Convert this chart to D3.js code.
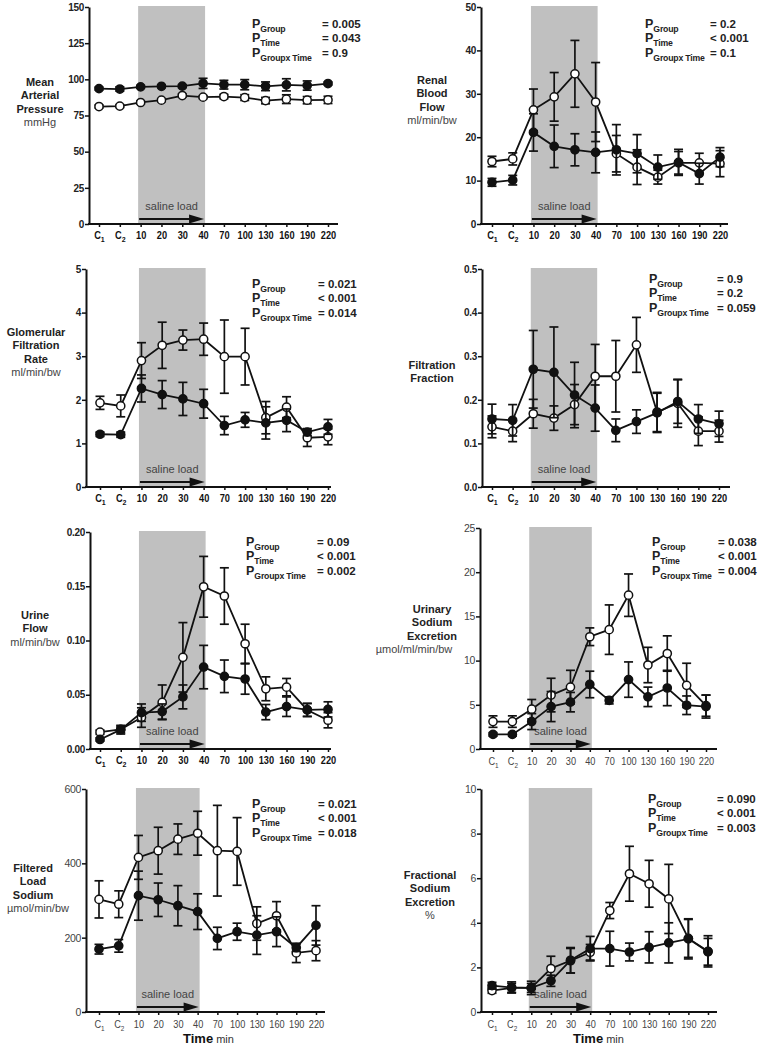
<!DOCTYPE html>
<html>
<head>
<meta charset="utf-8">
<script src="https://cdn.jsdelivr.net/npm/d3@7/dist/d3.min.js"></script>
<style>
  body { margin: 0; background: #fff; }
  svg { display: block; }
  text { font-family: "Liberation Sans", Arial, sans-serif; }
</style>
</head>
<body>
<svg id="chart" width="764" height="1047"></svg>
<script>
// time points (C1, C2 = control periods, then minutes)
const categories = ["C1", "C2", "10", "20", "30", "40", "70", "100", "130", "160", "190", "220"];
const pNames = ["Group", "Time", "Groupx Time"];

// Mean arterial pressure
const mapTicks = [0, 25, 50, 75, 100, 125, 150];
const mapFilled = [93.6, 93.3, 94.8, 95.2, 95.3, 97.2, 96.3, 96.3, 95.2, 96.2, 95.7, 97.1];
const mapFilledErr = [1.0, 1.5, 1.0, 1.0, 1.0, 3.5, 3.0, 3.5, 3.0, 4.2, 3.2, 1.0];
const mapOpen = [81.2, 81.5, 84.0, 85.6, 88.8, 87.7, 88.1, 87.4, 85.3, 86.3, 85.6, 85.8];
const mapOpenErr = [1.0, 1.0, 1.0, 1.0, 1.0, 1.0, 1.5, 2.0, 2.2, 3.0, 2.5, 2.5];
const mapP = ["= 0.005", "= 0.043", "= 0.9"];

// Renal blood flow
const rbfTicks = [0, 10, 20, 30, 40, 50];
const rbfOpen = [14.4, 15.0, 26.3, 29.3, 34.6, 28.1, 16.2, 13.1, 10.8, 14.1, 14.1, 13.9];
const rbfOpenErr = [1.2, 1.4, 4.8, 5.6, 7.7, 9.1, 4.2, 4.0, 1.6, 2.6, 2.2, 3.0];
const rbfFilled = [9.6, 10.1, 21.1, 17.9, 17.1, 16.5, 17.1, 16.2, 13.1, 14.2, 11.6, 15.4];
const rbfFilledErr = [0.9, 1.1, 4.3, 4.9, 3.7, 4.7, 5.8, 4.4, 2.8, 3.0, 2.4, 2.2];
const rbfP = ["= 0.2", "< 0.001", "= 0.1"];

// Glomerular filtration rate
const gfrTicks = [0, 1, 2, 3, 4, 5];
const gfrOpen = [1.93, 1.86, 2.90, 3.25, 3.37, 3.39, 2.99, 2.99, 1.59, 1.83, 1.13, 1.15];
const gfrOpenErr = [0.15, 0.25, 0.41, 0.53, 0.23, 0.37, 0.84, 0.65, 0.37, 0.24, 0.2, 0.18];
const gfrFilled = [1.21, 1.20, 2.26, 2.12, 2.02, 1.91, 1.41, 1.54, 1.47, 1.53, 1.26, 1.38];
const gfrFilledErr = [0.05, 0.06, 0.31, 0.32, 0.38, 0.33, 0.21, 0.17, 0.37, 0.26, 0.08, 0.17];
const gfrP = ["= 0.021", "< 0.001", "= 0.014"];

// Filtration fraction
const ffTicks = [0, 0.1, 0.2, 0.3, 0.4, 0.5];
const ffOpen = [0.138, 0.128, 0.168, 0.158, 0.189, 0.254, 0.254, 0.326, 0.172, 0.192, 0.128, 0.128];
const ffOpenErr = [0.025, 0.024, 0.033, 0.028, 0.046, 0.073, 0.082, 0.063, 0.045, 0.055, 0.033, 0.025];
const ffFilled = [0.156, 0.153, 0.270, 0.263, 0.211, 0.181, 0.130, 0.150, 0.170, 0.196, 0.156, 0.145];
const ffFilledErr = [0.034, 0.036, 0.089, 0.104, 0.075, 0.053, 0.026, 0.027, 0.045, 0.05, 0.033, 0.029];
const ffP = ["= 0.9", "= 0.2", "= 0.059"];

// Urine flow
const ufTicks = [0, 0.05, 0.10, 0.15, 0.20];
const ufOpen = [0.0155, 0.0180, 0.0290, 0.0430, 0.0845, 0.1495, 0.141, 0.097, 0.0555, 0.057, 0.036, 0.0265];
const ufOpenErr = [0.002, 0.003, 0.009, 0.016, 0.032, 0.028, 0.026, 0.018, 0.011, 0.008, 0.006, 0.007];
const ufFilled = [0.0088, 0.0178, 0.0335, 0.0345, 0.0480, 0.0755, 0.0670, 0.0645, 0.0340, 0.0390, 0.0360, 0.0365];
const ufFilledErr = [0.0015, 0.004, 0.008, 0.007, 0.011, 0.020, 0.015, 0.014, 0.007, 0.009, 0.006, 0.007];
const ufP = ["= 0.09", "< 0.001", "= 0.002"];

// Urinary sodium excretion
const unavTicks = [0, 5, 10, 15, 20, 25];
const unavOpen = [3.1, 3.1, 4.5, 6.1, 7.0, 12.7, 13.5, 17.4, 9.5, 10.8, 7.2, 4.9];
const unavOpenErr = [0.65, 0.65, 1.1, 1.9, 1.9, 1.0, 2.8, 2.4, 2.0, 2.0, 2.5, 1.2];
const unavFilled = [1.65, 1.65, 3.1, 4.8, 5.3, 7.3, 5.5, 7.85, 5.9, 6.9, 4.95, 4.8];
const unavFilledErr = [0.2, 0.2, 0.9, 1.7, 1.1, 1.5, 0.4, 2.0, 1.1, 2.0, 1.05, 1.3];
const unavP = ["= 0.038", "< 0.001", "= 0.004"];

// Filtered load sodium
const flnaTicks = [0, 200, 400, 600];
const flnaOpen = [303, 290, 416, 434, 465, 481, 434, 432, 238, 259, 159, 165];
const flnaOpenErr = [50, 36, 59, 63, 41, 59, 122, 91, 45, 38, 26, 27];
const flnaFilled = [169, 178, 313, 302, 286, 270, 198, 216, 207, 216, 173, 233];
const flnaFilledErr = [13, 17, 66, 45, 54, 48, 30, 23, 52, 40, 10, 53];
const flnaP = ["= 0.021", "< 0.001", "= 0.018"];

// Fractional sodium excretion
const fenaTicks = [0, 2, 4, 6, 8, 10];
const fenaOpen = [0.96, 1.08, 1.08, 1.95, 2.30, 2.68, 4.55, 6.20, 5.75, 5.07, 3.30, 2.72];
const fenaOpenErr = [0.12, 0.2, 0.2, 0.55, 0.55, 0.35, 0.36, 1.23, 1.05, 1.55, 0.85, 0.7];
const fenaFilled = [1.18, 1.10, 1.08, 1.40, 2.32, 2.84, 2.84, 2.69, 2.90, 3.10, 3.28, 2.70];
const fenaFilledErr = [0.15, 0.25, 0.3, 0.25, 0.57, 0.55, 0.78, 0.4, 0.7, 0.9, 0.9, 0.6];
const fenaP = ["= 0.090", "< 0.001", "= 0.003"];

const panels = [
  { title: ["Mean", "Arterial", "Pressure"], unit: "mmHg", ticks: mapTicks, fmt: d3.format("d"),
    open: mapOpen, openErr: mapOpenErr, filled: mapFilled, filledErr: mapFilledErr, p: mapP,
    ax: 89, top: 7, bottom: 224, x0: 99, x1: 328, xEnd: 338, lx: 40, ly: 86, px: 252, vx: 322, py: 28, bold: true },
  { title: ["Renal", "Blood", "Flow"], unit: "ml/min/bw", ticks: rbfTicks, fmt: d3.format("d"),
    open: rbfOpen, openErr: rbfOpenErr, filled: rbfFilled, filledErr: rbfFilledErr, p: rbfP,
    ax: 481, top: 7, bottom: 224, x0: 492, x1: 720, xEnd: 728, lx: 432, ly: 84, px: 645, vx: 710, py: 28, bold: true },
  { title: ["Glomerular", "Filtration", "Rate"], unit: "ml/min/bw", ticks: gfrTicks, fmt: d3.format("d"),
    open: gfrOpen, openErr: gfrOpenErr, filled: gfrFilled, filledErr: gfrFilledErr, p: gfrP,
    ax: 86, top: 269, bottom: 487, x0: 100, x1: 328, xEnd: 331, lx: 36, ly: 336, px: 252, vx: 318, py: 288, bold: true },
  { title: ["Filtration", "Fraction"], unit: null, ticks: ffTicks, fmt: d3.format(".1f"),
    open: ffOpen, openErr: ffOpenErr, filled: ffFilled, filledErr: ffFilledErr, p: ffP,
    ax: 482, top: 269, bottom: 487, x0: 492, x1: 719, xEnd: 730, lx: 432, ly: 369, px: 649, vx: 717, py: 283, bold: true },
  { title: ["Urine", "Flow"], unit: "ml/min/bw", ticks: ufTicks, fmt: d3.format(".2f"),
    open: ufOpen, openErr: ufOpenErr, filled: ufFilled, filledErr: ufFilledErr, p: ufP,
    ax: 90, top: 532, bottom: 749, x0: 100, x1: 328, xEnd: 331, lx: 35, ly: 619, px: 246, vx: 317, py: 546, bold: true },
  { title: ["Urinary", "Sodium", "Excretion"], unit: "\u00b5mol/ml/min/bw", ticks: unavTicks, fmt: d3.format("d"),
    open: unavOpen, openErr: unavOpenErr, filled: unavFilled, filledErr: unavFilledErr, p: unavP,
    ax: 480, top: 528, bottom: 749, x0: 493, x1: 706, xEnd: 717, lx: 432, ly: 613, unitX: 414, px: 652, vx: 718, py: 546, bold: false },
  { title: ["Filtered", "Load", "Sodium"], unit: "\u00b5mol/min/bw", ticks: flnaTicks, fmt: d3.format("d"),
    open: flnaOpen, openErr: flnaOpenErr, filled: flnaFilled, filledErr: flnaFilledErr, p: flnaP,
    ax: 86, top: 789, bottom: 1012, x0: 99, x1: 316, xEnd: 325, lx: 33, ly: 872, unitX: 38, px: 252, vx: 318, py: 808, bold: false, timeX: 183 },
  { title: ["Fractional", "Sodium", "Excretion"], unit: "%", ticks: fenaTicks, fmt: d3.format("d"),
    open: fenaOpen, openErr: fenaOpenErr, filled: fenaFilled, filledErr: fenaFilledErr, p: fenaP,
    ax: 481, top: 789, bottom: 1012, x0: 492, x1: 708, xEnd: 717, lx: 430, ly: 879, px: 648, vx: 717, py: 803, bold: false, timeX: 573 }
];

const svg = d3.select("#chart");

panels.forEach(cfg => {
  const g = svg.append("g");
  const x = d3.scalePoint().domain(categories).range([cfg.x0, cfg.x1]);
  const y = d3.scaleLinear().domain([0, d3.max(cfg.ticks)]).range([cfg.bottom, cfg.top]);

  // saline load band
  const bl = x("10") - 2.5, br = x("40") + 2;
  g.append("rect")
    .attr("x", bl).attr("y", cfg.top - 1)
    .attr("width", br - bl).attr("height", cfg.bottom - cfg.top + 1)
    .attr("fill", "#c0c0c0");
  const ay = cfg.bottom - 5;
  g.append("line")
    .attr("x1", bl + 1).attr("x2", br - 12).attr("y1", ay).attr("y2", ay)
    .attr("stroke", "#111").attr("stroke-width", 2);
  g.append("path")
    .attr("d", `M${br - 16},${ay - 4.5}L${br - 1},${ay}L${br - 16},${ay + 4.5}Z`)
    .attr("fill", "#111");
  g.append("text")
    .attr("x", (bl + br) / 2).attr("y", cfg.bottom - 14.5)
    .attr("text-anchor", "middle").attr("font-size", 11).attr("fill", "#444")
    .text("saline load");

  // y axis
  const yAxis = g.append("g")
    .attr("transform", `translate(${cfg.ax},0)`)
    .call(d3.axisLeft(y).tickValues(cfg.ticks).tickFormat(cfg.fmt).tickSize(4).tickSizeOuter(0).tickPadding(1));
  yAxis.select(".domain").attr("stroke", "#111").attr("stroke-width", 2);
  yAxis.selectAll(".tick line").attr("stroke", "#111").attr("stroke-width", 1.5);
  yAxis.selectAll(".tick text")
    .attr("font-family", "Liberation Sans, Arial, sans-serif")
    .attr("font-size", cfg.bold ? 10 : 10.5).attr("fill", cfg.bold ? "#222" : "#444")
    .attr("font-weight", cfg.bold ? "bold" : "normal")
    .attr("letter-spacing", -0.3);

  // x axis
  const xAxis = g.append("g")
    .attr("transform", `translate(0,${cfg.bottom})`)
    .call(d3.axisBottom(x).tickSize(3).tickPadding(5));
  xAxis.select(".domain").remove();
  xAxis.selectAll(".tick line").attr("stroke", "#111").attr("stroke-width", 1.5);
  g.append("line")
    .attr("x1", cfg.ax - 1).attr("x2", cfg.xEnd).attr("y1", cfg.bottom).attr("y2", cfg.bottom)
    .attr("stroke", "#111").attr("stroke-width", 2);
  xAxis.selectAll(".tick text")
    .attr("font-family", "Liberation Sans, Arial, sans-serif")
    .attr("font-size", cfg.bold ? 10.5 : 11.5).attr("fill", cfg.bold ? "#111" : "#444")
    .attr("font-weight", cfg.bold ? "bold" : "normal")
    .attr("transform", `scale(${cfg.bold ? 0.88 : 0.8},1)`)
    .each(function(d) {
      if (d[0] === "C") {
        const t = d3.select(this);
        t.text("C");
        t.append("tspan").attr("font-size", 8).attr("dy", 3).text(d.slice(1));
      }
    });

  // series: open first, filled on top
  const series = [
    { vals: cfg.open, errs: cfg.openErr, fill: "#fff" },
    { vals: cfg.filled, errs: cfg.filledErr, fill: "#111" }
  ];
  series.forEach(s => {
    const pts = categories.map((c, i) => ({ c, v: s.vals[i], e: s.errs[i] }));
    const eb = g.append("g").attr("stroke", "#111").attr("stroke-width", 1.7);
    eb.selectAll("line.v").data(pts).join("line").attr("class", "v")
      .attr("x1", d => x(d.c)).attr("x2", d => x(d.c))
      .attr("y1", d => y(d.v - d.e)).attr("y2", d => y(d.v + d.e));
    eb.selectAll("line.t").data(pts).join("line").attr("class", "t")
      .attr("x1", d => x(d.c) - 4.5).attr("x2", d => x(d.c) + 4.5)
      .attr("y1", d => y(d.v + d.e)).attr("y2", d => y(d.v + d.e));
    eb.selectAll("line.b").data(pts).join("line").attr("class", "b")
      .attr("x1", d => x(d.c) - 4.5).attr("x2", d => x(d.c) + 4.5)
      .attr("y1", d => y(d.v - d.e)).attr("y2", d => y(d.v - d.e));
    g.append("path").datum(pts)
      .attr("fill", "none").attr("stroke", "#111").attr("stroke-width", 1.8)
      .attr("d", d3.line().x(d => x(d.c)).y(d => y(d.v)));
    g.append("g").selectAll("circle").data(pts).join("circle")
      .attr("cx", d => x(d.c)).attr("cy", d => y(d.v)).attr("r", 4.1)
      .attr("fill", s.fill).attr("stroke", "#111").attr("stroke-width", 1.5);
  });

  // axis title on the left
  const title = g.append("text").attr("text-anchor", "middle")
    .attr("font-size", 11).attr("font-weight", "bold").attr("fill", "#222");
  cfg.title.forEach((t, i) => {
    title.append("tspan").attr("x", cfg.lx).attr("y", cfg.ly + i * 13.3).text(t);
  });
  if (cfg.unit) {
    g.append("text")
      .attr("x", cfg.unitX || cfg.lx).attr("y", cfg.ly + cfg.title.length * 13.3)
      .attr("text-anchor", "middle").attr("font-size", 11).attr("fill", "#444")
      .text(cfg.unit);
  }

  // P values
  cfg.p.forEach((v, i) => {
    const yy = cfg.py + i * 14.3;
    const t = g.append("text").attr("x", cfg.px).attr("y", yy)
      .attr("font-size", 12.5).attr("font-weight", "bold").attr("fill", "#222").text("P");
    t.append("tspan").attr("font-size", 8.7).attr("letter-spacing", -0.2).attr("dy", 4).text(pNames[i]);
    g.append("text").attr("x", cfg.vx).attr("y", yy)
      .attr("font-size", 11.5).attr("font-weight", "bold").attr("fill", "#222").text(v);
  });

  if (cfg.timeX) {
    const tt = g.append("text").attr("x", cfg.timeX).attr("y", 1043).attr("fill", "#111");
    tt.append("tspan").attr("font-size", 13).attr("font-weight", "bold").text("Time");
    tt.append("tspan").attr("font-size", 11).attr("fill", "#333").text(" min");
  }
});
</script>
</body>
</html>
